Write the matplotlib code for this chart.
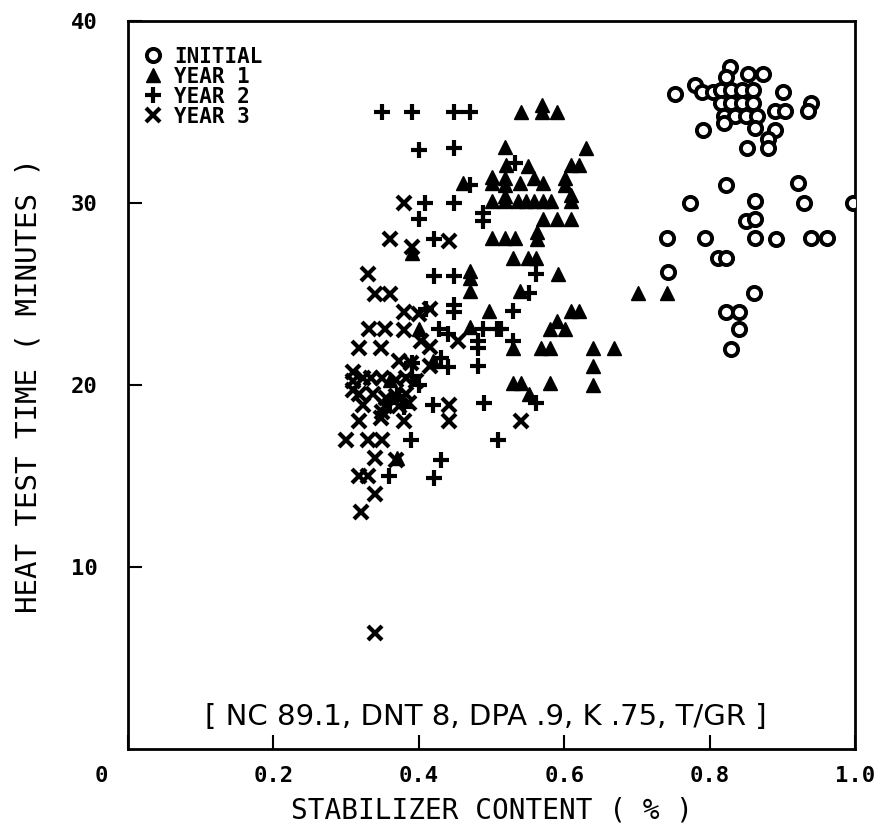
import matplotlib
matplotlib.use("Agg")
import matplotlib.pyplot as plt
from matplotlib.lines import Line2D
from matplotlib.transforms import ScaledTranslation

# stabilizer content (%) / heat test time (minutes)
INITIAL_X = [0.752, 0.828, 0.822, 0.853, 0.873, 0.78, 0.79, 0.805,
             0.815, 0.83, 0.845, 0.86, 0.815, 0.83, 0.845, 0.86,
             0.82, 0.835, 0.85, 0.865, 0.82,
             0.901, 0.890, 0.904, 0.940, 0.935, 0.791, 0.862, 0.890,
             0.881, 0.881, 0.852, 0.822, 0.921, 0.773, 0.862, 0.930,
             0.997, 0.850, 0.862, 0.741, 0.793, 0.862, 0.891, 0.940,
             0.961, 0.812, 0.823, 0.743, 0.861, 0.822, 0.841, 0.841, 0.830]
INITIAL_Y = [36.0, 37.5, 36.9, 37.1, 37.1, 36.5, 36.1, 36.1,
             36.2, 36.2, 36.2, 36.2, 35.5, 35.5, 35.5, 35.5,
             34.8, 34.8, 34.8, 34.8, 34.4,
             36.1, 35.05, 35.05, 35.5, 35.05, 34.0, 34.1, 34.0,
             33.5, 33.0, 33.0, 31.0, 31.1, 30.0, 30.1, 30.0,
             30.0, 29.0, 29.1, 28.1, 28.1, 28.1, 28.0, 28.1,
             28.1, 27.0, 27.0, 26.2, 25.05, 24.0, 24.0, 23.05, 22.0]

YEAR1_X = [0.541, 0.570, 0.570, 0.590, 0.519, 0.630, 0.520, 0.550, 0.610,
           0.621, 0.519, 0.519, 0.539, 0.559, 0.571, 0.601, 0.601, 0.519,
           0.519, 0.536, 0.548, 0.559, 0.571, 0.582, 0.610, 0.610, 0.571,
           0.590, 0.610, 0.562, 0.562, 0.519, 0.532, 0.530, 0.550, 0.561,
           0.591, 0.702, 0.741, 0.539, 0.610, 0.621, 0.580, 0.590, 0.601,
           0.529, 0.568, 0.580, 0.640, 0.669, 0.640, 0.529, 0.541, 0.580,
           0.640, 0.551, 0.461, 0.500, 0.500, 0.500, 0.391, 0.500, 0.470,
           0.470, 0.470, 0.470, 0.497, 0.400, 0.420, 0.360, 0.370]
YEAR1_Y = [35.0, 35.4, 35.0, 35.0, 33.1, 33.0, 32.1, 32.05, 32.1,
           32.1, 31.4, 31.0, 31.1, 31.4, 31.1, 31.4, 31.0, 30.4,
           30.1, 30.1, 30.1, 30.1, 30.1, 30.1, 30.45, 30.1, 29.1,
           29.1, 29.1, 28.4, 28.0, 28.1, 28.1, 27.0, 27.0, 27.0,
           26.1, 25.05, 25.05, 25.15, 24.05, 24.05, 23.05, 23.5, 23.05,
           22.05, 22.05, 22.05, 22.05, 22.05, 21.05, 20.1, 20.1, 20.1,
           20.0, 19.5, 31.1, 31.45, 31.1, 30.1, 27.25, 28.1, 26.25,
           25.9, 25.15, 23.2, 24.05, 23.1, 21.3, 20.3, 16.0]

YEAR2_X = [0.350, 0.391, 0.449, 0.471, 0.400, 0.449, 0.470, 0.409, 0.449,
           0.488, 0.488, 0.400, 0.421, 0.421, 0.449, 0.449, 0.449, 0.488,
           0.507, 0.481, 0.481, 0.481, 0.419, 0.490, 0.389, 0.509, 0.430,
           0.359, 0.421, 0.532, 0.561, 0.551, 0.530, 0.513, 0.561, 0.428,
           0.440, 0.529, 0.41, 0.43, 0.44, 0.39, 0.40, 0.37, 0.38, 0.36, 0.39]
YEAR2_Y = [35.0, 35.0, 35.0, 35.0, 32.9, 33.0, 31.0, 30.0, 30.0,
           29.45, 29.0, 29.1, 28.0, 26.0, 26.0, 24.4, 24.0, 23.05,
           23.05, 22.4, 22.05, 21.05, 18.9, 19.0, 17.0, 17.0, 15.9,
           15.0, 14.9, 32.2, 26.1, 25.05, 24.05, 23.05, 19.0, 23.05,
           22.8, 22.4, 24.2, 21.5, 21.0, 21.2, 20.0, 19.4, 18.8, 19.0, 20.5]

YEAR3_X = [0.380, 0.360, 0.391, 0.441, 0.330, 0.340, 0.360, 0.380, 0.332,
           0.353, 0.380, 0.318, 0.348, 0.454, 0.441, 0.318, 0.348, 0.380,
           0.441, 0.300, 0.330, 0.349, 0.340, 0.369, 0.318, 0.330, 0.340,
           0.320, 0.340, 0.541, 0.309, 0.309, 0.309, 0.323, 0.334, 0.350,
           0.369, 0.382, 0.396, 0.318, 0.337, 0.355, 0.369, 0.382, 0.323,
           0.353, 0.373, 0.387, 0.350, 0.373, 0.389, 0.415, 0.403, 0.415,
           0.400, 0.415]
YEAR3_Y = [30.0, 28.0, 27.6, 27.9, 26.1, 25.0, 25.0, 24.0, 23.05,
           23.05, 23.0, 22.05, 22.05, 22.4, 18.9, 18.0, 18.2, 18.0,
           18.0, 17.0, 17.0, 17.0, 16.0, 15.9, 15.0, 15.0, 14.0,
           13.0, 6.4, 18.0, 20.7, 20.2, 19.7, 20.4, 20.4, 20.4,
           20.3, 20.4, 20.2, 19.5, 19.5, 19.3, 19.4, 19.5, 18.9,
           18.85, 18.85, 19.0, 18.5, 21.3, 21.2, 22.1, 22.4, 21.05,
           23.9, 24.2]

X_TICKS = [0, 0.2, 0.4, 0.6, 0.8, 1.0]
X_TICKLABELS = ['0', '0.2', '0.4', '0.6', '0.8', '1.0']
Y_TICKS = [10, 20, 30, 40]
Y_TICKLABELS = ['10', '20', '30', '40']

MONO = ['DejaVu Sans Mono']
NARROW = ['Liberation Sans Narrow', 'DejaVu Sans']

fig = plt.figure(figsize=(8.84, 8.31), dpi=100)
ax = fig.add_axes([0.1448, 0.0987, 0.8224, 0.876])

ax.plot(INITIAL_X, INITIAL_Y, 'o', ms=9.5, mfc='white', mec='black', mew=2.8,
        label='INITIAL', zorder=3)
ax.plot(YEAR1_X, YEAR1_Y, '^', ms=10, color='black', label='YEAR 1', zorder=3)
ax.plot(YEAR2_X, YEAR2_Y, '+', ms=11, mew=3, color='black', label='YEAR 2', zorder=3)
ax.plot(YEAR3_X, YEAR3_Y, 'x', ms=10, mew=3, color='black', label='YEAR 3', zorder=3)

ax.set_xlim(0, 1.0)
ax.set_ylim(0, 40)
ax.set_xticks(X_TICKS)
ax.set_xticklabels(X_TICKLABELS, family=MONO, fontsize=16, fontweight='bold')
ax.set_yticks(Y_TICKS)
ax.set_yticklabels(Y_TICKLABELS, family=MONO, fontsize=16, fontweight='bold')
ax.tick_params(axis='both', direction='in', length=10, width=1.5)
ax.tick_params(axis='x', pad=12)
ax.tick_params(axis='y', pad=22)
for sp in ax.spines.values():
    sp.set_linewidth(2)

# the "0" sits left of the corner in the original
lbl0 = ax.get_xticklabels()[0]
lbl0.set_transform(lbl0.get_transform() + ScaledTranslation(-0.27, 0, fig.dpi_scale_trans))

ax.set_xlabel('STABILIZER CONTENT ( % )', family=MONO, fontsize=20, labelpad=8)
ax.set_ylabel('HEAT TEST TIME ( MINUTES )', family=MONO, fontsize=21, labelpad=20)

ax.text(0.492, 1.75, '[ NC 89.1, DNT 8, DPA .9, K .75, T/GR ]', family=NARROW,
        fontsize=21, ha='center', va='center')

handles = [
    Line2D([], [], ls='none', marker='o', ms=9.5, mfc='white', mec='black', mew=2.8),
    Line2D([], [], ls='none', marker='^', ms=10, color='black'),
    Line2D([], [], ls='none', marker='+', ms=11, mew=3, color='black'),
    Line2D([], [], ls='none', marker='x', ms=10, mew=3, color='black'),
]
ax.legend(handles, ['INITIAL', 'YEAR 1', 'YEAR 2', 'YEAR 3'], loc='upper left',
          bbox_to_anchor=(0.0, 0.985), frameon=False, handlelength=1.0,
          handletextpad=0.5, labelspacing=0.0, borderaxespad=0.3,
          prop={'family': MONO, 'size': 15, 'weight': 'bold'})

fig.savefig('out.png', dpi=100)
